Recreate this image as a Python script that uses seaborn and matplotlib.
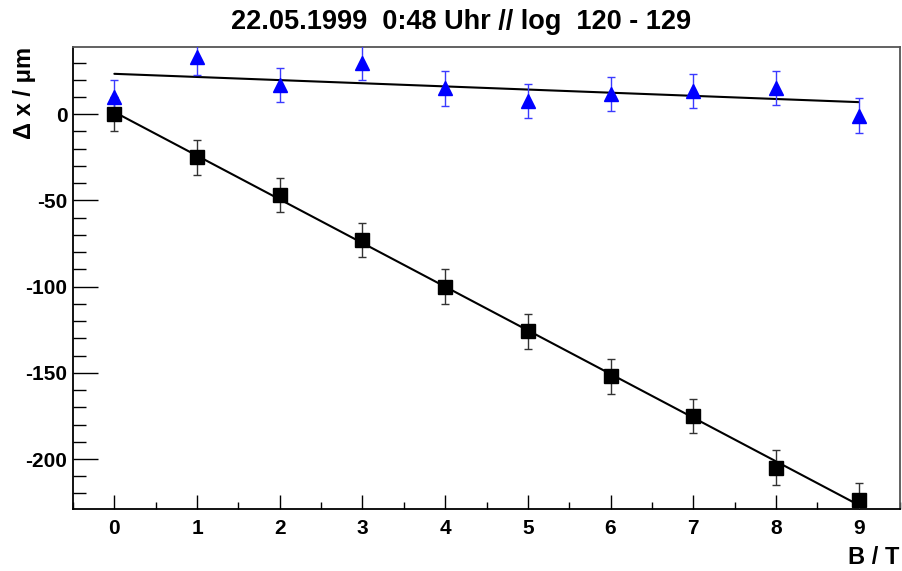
import numpy as np
import matplotlib
matplotlib.use('Agg')
import matplotlib.pyplot as plt
from matplotlib.ticker import MultipleLocator
import seaborn as sns

# data
b_field = [0, 1, 2, 3, 4, 5, 6, 7, 8, 9]
dx_black = [0, -25, -47, -73, -100, -126, -152, -175, -205, -224]
dx_blue = [10, 33, 17, 30, 15, 7.7, 11.6, 13.5, 15.3, -0.8]
err_black = [10] * 10
err_blue = [10] * 10

sns.set_style('ticks')
plt.rcParams['font.family'] = ['Liberation Sans', 'DejaVu Sans']
plt.rcParams['font.weight'] = 'bold'
plt.rcParams['axes.unicode_minus'] = False
plt.rcParams['text.color'] = 'black'
plt.rcParams['xtick.color'] = 'black'
plt.rcParams['ytick.color'] = 'black'

fig = plt.figure(figsize=(9.02, 5.71), dpi=100)
ax = fig.add_axes([73 / 902, 1 - 509 / 571, 827 / 902, 462 / 571])

# fit lines
sns.regplot(x=b_field, y=dx_black, ax=ax, scatter=False, ci=None, truncate=True,
            line_kws={'color': 'black', 'lw': 1.5})
sns.regplot(x=b_field, y=dx_blue, ax=ax, scatter=False, ci=None, truncate=True,
            line_kws={'color': 'black', 'lw': 1.5})

# points with errors
ax.errorbar(b_field, dx_black, yerr=err_black, fmt='s', color='black', ms=10,
            ecolor='#333333', elinewidth=1, capsize=3, capthick=1, zorder=5)
ax.errorbar(b_field, dx_blue, yerr=err_blue, fmt='^', color='blue', ms=10,
            ecolor='#3a3aff', elinewidth=1, capsize=3, capthick=1, zorder=5)

ax.set_xlim(-0.5, 9.5)
ax.set_ylim(-229, 39)
ax.set_xticks(b_field)
ax.set_yticks([0, -50, -100, -150, -200])
ax.xaxis.set_minor_locator(MultipleLocator(0.5))
ax.yaxis.set_minor_locator(MultipleLocator(10))
ax.tick_params(which='major', axis='y', direction='in', length=18, width=1, labelsize=15, pad=4)
ax.tick_params(which='minor', axis='y', direction='in', length=9, width=1)
ax.tick_params(which='major', axis='x', direction='in', length=10, width=1, labelsize=15, pad=7)
ax.tick_params(which='minor', axis='x', direction='in', length=5, width=1)
for lab in ax.get_xticklabels() + ax.get_yticklabels():
    lab.set_fontweight('bold')

for s in ['left', 'bottom']:
    ax.spines[s].set_color('black')
    ax.spines[s].set_linewidth(1.3)
for s in ['top', 'right']:
    ax.spines[s].set_color('#555555')
    ax.spines[s].set_linewidth(1.3)

fig.text(899 / 902, 1 - 557 / 571, 'B / T', ha='right', va='center', fontsize=17, fontweight='bold')
fig.text(25 / 902, 1 - 47 / 571, '\u0394 x / \u03bcm', ha='center', va='top', rotation=90,
         fontsize=17, fontweight='bold')

fig.text(461 / 902, 1 - 22 / 571, '22.05.1999  0:48 Uhr // log  120 - 129', ha='center', va='center',
         fontsize=19.5, fontweight='bold')

fig.savefig('out.png', dpi=100)
